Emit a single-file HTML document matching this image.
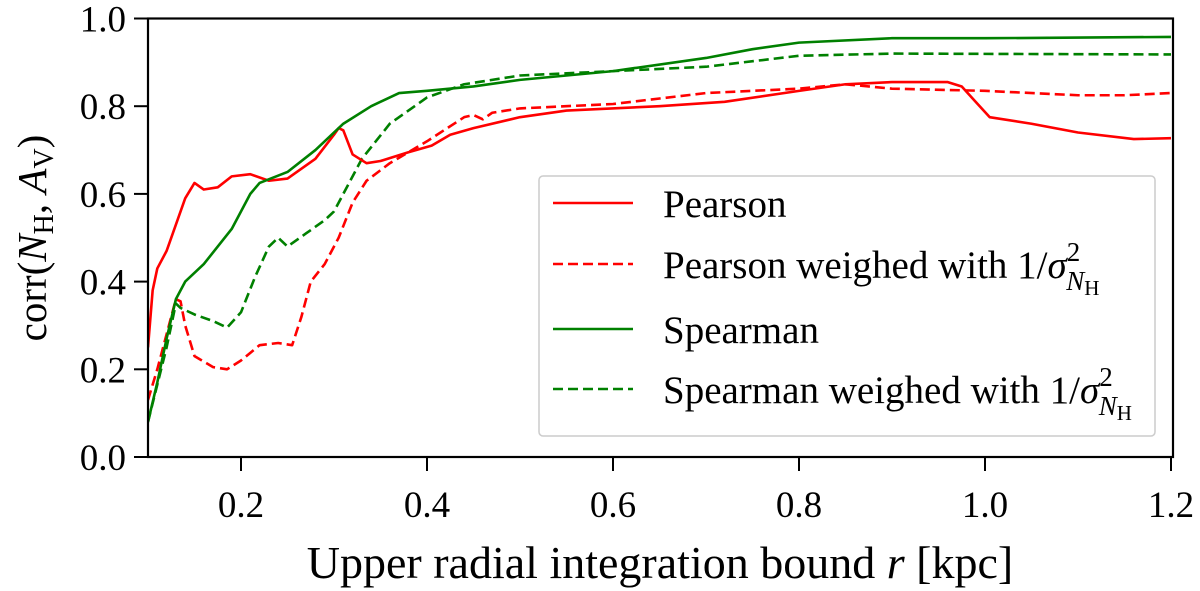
<!DOCTYPE html>
<html><head><meta charset="utf-8"><style>
body{margin:0;background:#fff;}
svg{display:block;font-family:"Liberation Serif",serif;}
</style></head><body>
<svg id="chart" width="1200" height="591" viewBox="0 0 1200 591">
<defs><clipPath id="clip"><rect x="148" y="18" width="1025" height="439"/></clipPath></defs>
<g id="series" clip-path="url(#clip)"></g>
<rect x="148" y="18.5" width="1025" height="438.5" fill="none" stroke="#000" stroke-width="2.2"/>
<g id="ticks"></g>
<text x="46" y="238" font-size="41" text-anchor="middle" transform="rotate(-90 46 238)">corr(<tspan font-style="italic">N</tspan><tspan font-size="28" dy="7">H</tspan><tspan dy="-7">, </tspan><tspan font-style="italic">A</tspan><tspan font-size="28" dy="7">V</tspan><tspan dy="-7">)</tspan></text>
<text x="660" y="578" font-size="46" text-anchor="middle">Upper radial integration bound <tspan font-style="italic">r</tspan> [kpc]</text>
<g>
<rect x="539" y="176" width="616" height="260" rx="4" fill="#fff" fill-opacity="0.8" stroke="#ccc" stroke-width="1.5"/>
<line x1="553" y1="203" x2="633" y2="203" stroke="#ff0000" stroke-width="2.5"/>
<text x="663" y="217" font-size="39">Pearson</text>
<line x1="553" y1="264" x2="633" y2="264" stroke="#ff0000" stroke-width="2.5" stroke-dasharray="10,5"/>
<text x="663" y="278" font-size="39">Pearson weighed with 1/<tspan font-style="italic">σ</tspan><tspan font-size="27" dy="-17">2</tspan><tspan font-size="27" font-style="italic" dx="-14" dy="29">N</tspan><tspan font-size="21" dy="5">H</tspan></text>
<line x1="553" y1="329" x2="633" y2="329" stroke="#008000" stroke-width="2.5"/>
<text x="663" y="343" font-size="39">Spearman</text>
<line x1="553" y1="389" x2="633" y2="389" stroke="#008000" stroke-width="2.5" stroke-dasharray="10,5"/>
<text x="663" y="403" font-size="39">Spearman weighed with 1/<tspan font-style="italic">σ</tspan><tspan font-size="27" dy="-17">2</tspan><tspan font-size="27" font-style="italic" dx="-14" dy="29">N</tspan><tspan font-size="21" dy="5">H</tspan></text>
</g>
</svg>
<script>
const xTicks=[0.2,0.4,0.6,0.8,1.0,1.2];
const yTicks=[0.0,0.2,0.4,0.6,0.8,1.0];
const pearsonX=[0.1,0.105,0.11,0.12,0.14,0.15,0.16,0.175,0.19,0.21,0.23,0.25,0.28,0.3,0.305,0.31,0.32,0.335,0.35,0.38,0.405,0.425,0.45,0.5,0.55,0.65,0.72,0.8,0.85,0.9,0.96,0.975,0.99,1.005,1.05,1.1,1.16,1.2];
const pearsonY=[0.25,0.38,0.43,0.47,0.59,0.625,0.61,0.615,0.64,0.645,0.63,0.635,0.68,0.735,0.75,0.745,0.69,0.67,0.675,0.695,0.71,0.735,0.75,0.775,0.79,0.8,0.81,0.835,0.85,0.855,0.855,0.845,0.81,0.775,0.76,0.74,0.725,0.727];
const pearsonWX=[0.1,0.11,0.12,0.13,0.135,0.14,0.15,0.17,0.185,0.2,0.22,0.24,0.255,0.265,0.275,0.29,0.305,0.32,0.335,0.36,0.4,0.44,0.45,0.46,0.47,0.5,0.6,0.7,0.8,0.85,0.9,1.0,1.1,1.15,1.2];
const pearsonWY=[0.13,0.2,0.28,0.36,0.355,0.3,0.23,0.205,0.2,0.22,0.255,0.26,0.255,0.32,0.4,0.44,0.5,0.58,0.63,0.67,0.72,0.775,0.78,0.77,0.785,0.795,0.805,0.83,0.84,0.85,0.84,0.835,0.825,0.825,0.83];
const spearmanX=[0.1,0.11,0.12,0.13,0.14,0.16,0.19,0.21,0.22,0.25,0.28,0.31,0.34,0.37,0.4,0.45,0.5,0.6,0.7,0.75,0.8,0.9,1.0,1.2];
const spearmanY=[0.08,0.17,0.27,0.36,0.4,0.44,0.52,0.6,0.625,0.65,0.7,0.76,0.8,0.83,0.835,0.845,0.86,0.88,0.91,0.93,0.945,0.955,0.955,0.958];
const spearmanWX=[0.1,0.12,0.13,0.135,0.15,0.17,0.185,0.2,0.215,0.23,0.24,0.25,0.27,0.29,0.3,0.31,0.33,0.36,0.4,0.44,0.5,0.6,0.7,0.8,0.9,1.2];
const spearmanWY=[0.08,0.25,0.35,0.34,0.325,0.31,0.295,0.33,0.41,0.48,0.5,0.48,0.51,0.54,0.56,0.6,0.68,0.76,0.82,0.85,0.87,0.88,0.89,0.915,0.92,0.918];
const NS='http://www.w3.org/2000/svg';
const sx=v=>148+(v-0.1)*930;
const sy=v=>457-v*438.5;
const g=document.getElementById('series');
function line(xs,ys,color,dash,name){
  const p=document.createElementNS(NS,'polyline');
  p.setAttribute('points',xs.map((x,i)=>sx(x)+','+sy(ys[i])).join(' '));
  p.setAttribute('fill','none');p.setAttribute('stroke',color);p.setAttribute('stroke-width','2.6');
  p.setAttribute('stroke-linejoin','round');
  if(dash)p.setAttribute('stroke-dasharray','10,5');
  
  
  g.appendChild(p);
}
line(pearsonWX,pearsonWY,'#ff0000',true,'pearson-weighted-line');
line(spearmanWX,spearmanWY,'#008000',true,'spearman-weighted-line');
line(pearsonX,pearsonY,'#ff0000',false,'pearson-line');
line(spearmanX,spearmanY,'#008000',false,'spearman-line');
const t=document.getElementById('ticks');
xTicks.forEach(v=>{
  const l=document.createElementNS(NS,'line');
  l.setAttribute('x1',sx(v));l.setAttribute('x2',sx(v));l.setAttribute('y1',457);l.setAttribute('y2',471);
  l.setAttribute('stroke','#000');l.setAttribute('stroke-width','2');
  
  
  t.appendChild(l);
  const tx=document.createElementNS(NS,'text');
  tx.setAttribute('x',sx(v));tx.setAttribute('y',517);tx.setAttribute('font-size','37');tx.setAttribute('text-anchor','middle');
  tx.textContent=v.toFixed(1);
  
  
  t.appendChild(tx);
});
yTicks.forEach(v=>{
  const l=document.createElementNS(NS,'line');
  l.setAttribute('x1',134);l.setAttribute('x2',148);l.setAttribute('y1',sy(v));l.setAttribute('y2',sy(v));
  l.setAttribute('stroke','#000');l.setAttribute('stroke-width','2');
  
  
  t.appendChild(l);
  const tx=document.createElementNS(NS,'text');
  tx.setAttribute('x',126);tx.setAttribute('y',sy(v)+13);tx.setAttribute('font-size','37');tx.setAttribute('text-anchor','end');
  tx.textContent=v.toFixed(1);
  
  
  t.appendChild(tx);
});
</script>
</body></html>
